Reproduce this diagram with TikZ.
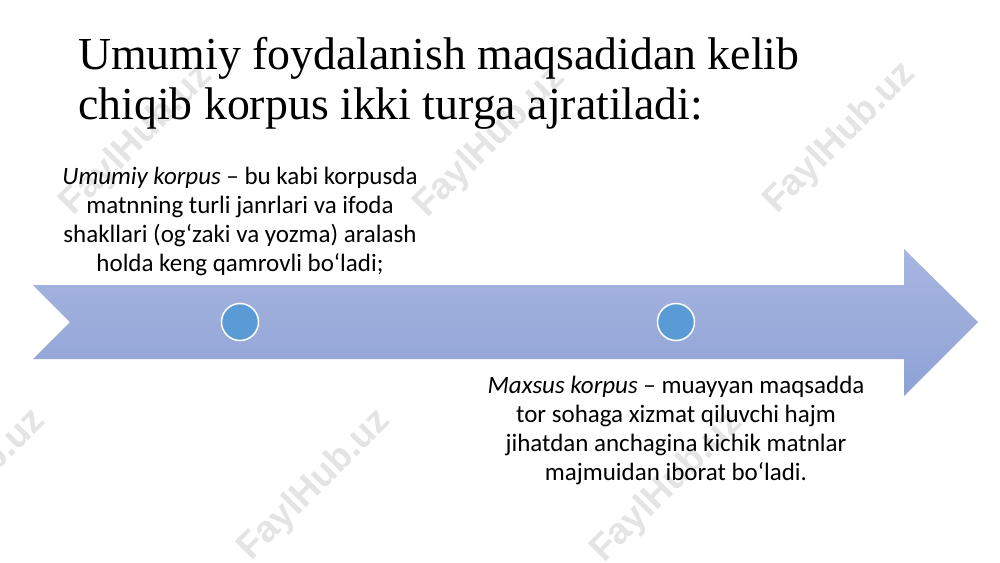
\documentclass[tikz,border=0pt]{standalone}
\usepackage{fontspec}
\setmainfont{Liberation Serif}
\newfontfamily\bodyfont{Carlito}
\newfontfamily\markfont{Liberation Sans}
\usetikzlibrary{positioning}

\newlength{\du}
\setlength{\du}{1pt}

\definecolor{arrowtop}{RGB}{168,182,224}
\definecolor{arrowbottom}{RGB}{142,162,214}
\definecolor{dotfill}{RGB}{91,155,213}
\definecolor{markgray}{RGB}{228,228,228}

\tikzset{
  titletext/.style={anchor=north west, inner sep=0pt, align=left,
    font=\fontsize{45.8}{50}\selectfont},
  bodytext/.style={align=center, inner sep=0pt,
    font=\bodyfont\fontsize{25}{29}\selectfont},
  dot/.style={circle, minimum size=37\du, inner sep=0pt,
    fill=dotfill, draw=white, line width=1.5\du},
  watermark/.style={rotate=45, text=markgray,
    font=\markfont\bfseries\fontsize{37}{37}\selectfont}
}

\begin{document}
\begin{tikzpicture}[x=1\du, y=-1\du]
\useasboundingbox[fill=white] (0,0) rectangle (1000,562);

% watermarks
\node[watermark] (mark1) at (137,140) {FaylHub.uz};
\node[watermark] (mark2) at (490,142) {FaylHub.uz};
\node[watermark] (mark3) at (840,138) {FaylHub.uz};
\node[watermark] (mark4) at (-30,485) {FaylHub.uz};
\node[watermark] (mark5) at (315,485) {FaylHub.uz};
\node[watermark] (mark6) at (667,487) {FaylHub.uz};

% notched arrow
\path[top color=arrowtop, bottom color=arrowbottom]
  (33,285) -- (904,285) -- (904,249) -- (978,322) -- (904,396)
  -- (904,359) -- (33,359) -- (70,322) -- cycle;

% dots on the arrow
\node[dot] (dotleft) at (240,322) {};
\node[dot] (dotright) at (676,322) {};

% title
\node[titletext] (title) at (78,37)
  {Umumiy foydalanish maqsadidan kelib\\chiqib korpus ikki turga ajratiladi:};

% texts
\node[bodytext] (general) at (240,221)
  {\textit{Umumiy korpus} – bu kabi korpusda\\
   matnning turli janrlari va ifoda\\
   shakllari (og‘zaki va yozma) aralash\\
   holda keng qamrovli bo‘ladi;};
\node[bodytext] (special) at (676,430)
  {\textit{Maxsus korpus} – muayyan maqsadda\\
   tor sohaga xizmat qiluvchi hajm\\
   jihatdan anchagina kichik matnlar\\
   majmuidan iborat bo‘ladi.};
\end{tikzpicture}
\end{document}
